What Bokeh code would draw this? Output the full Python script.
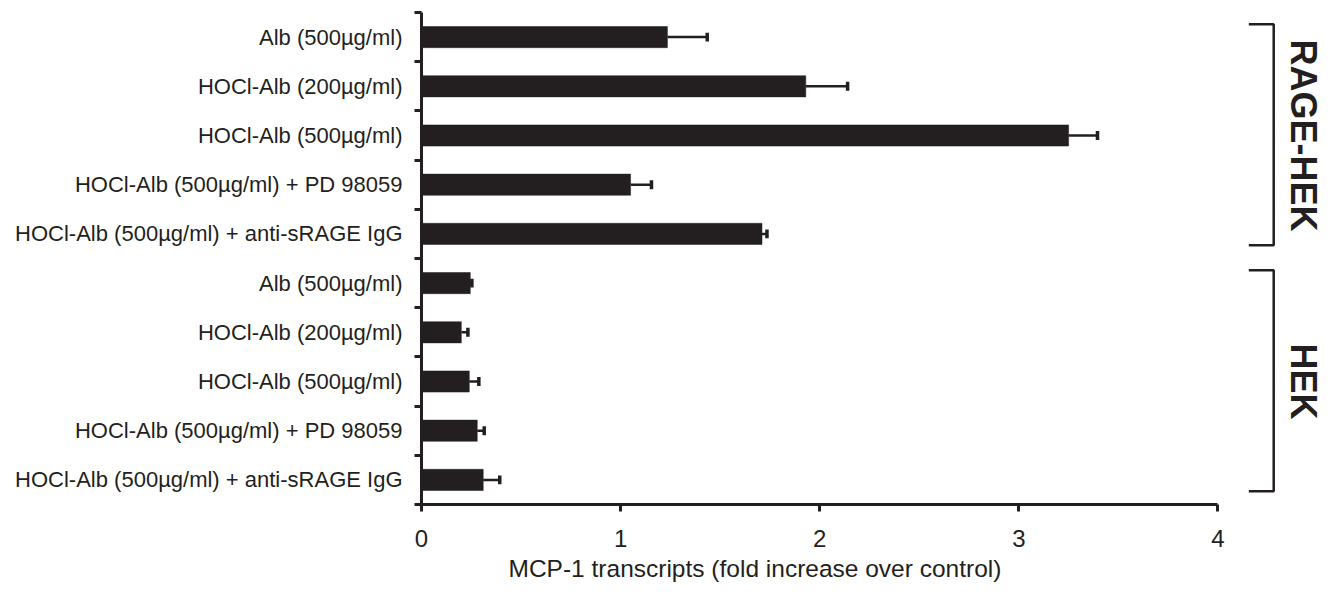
import math
from bokeh.plotting import figure
from bokeh.models import Range1d, FixedTicker, Title, ColumnDataSource
from bokeh.core.properties import value
from bokeh.embed import file_html
from bokeh.resources import INLINE

# ---- data (top to bottom) ----
conditions = [
    "Alb (500µg/ml)",
    "HOCl-Alb (200µg/ml)",
    "HOCl-Alb (500µg/ml)",
    "HOCl-Alb (500µg/ml) + PD 98059",
    "HOCl-Alb (500µg/ml) + anti-sRAGE IgG",
    "Alb (500µg/ml)",
    "HOCl-Alb (200µg/ml)",
    "HOCl-Alb (500µg/ml)",
    "HOCl-Alb (500µg/ml) + PD 98059",
    "HOCl-Alb (500µg/ml) + anti-sRAGE IgG",
]
fold_increase = [1.235, 1.93, 3.25, 1.05, 1.71, 0.245, 0.20, 0.24, 0.28, 0.31]
error_upper = [0.20, 0.21, 0.145, 0.105, 0.025, 0.008, 0.033, 0.048, 0.035, 0.083]
groups = ["RAGE-HEK", "HEK"]
group_members = [(0, 4), (5, 9)]
x_ticks = [0, 1, 2, 3, 4]
x_title = "MCP-1 transcripts (fold increase over control)"

INK = "#231f20"
FONT = "Liberation Sans"

n = len(conditions)
y_center = [n - i - 0.5 for i in range(n)]
cap_half = 0.09

src = ColumnDataSource(dict(
    y=y_center,
    v=fold_increase,
    hi=[v + e for v, e in zip(fold_increase, error_upper)],
    ylo=[y - cap_half for y in y_center],
    yhi=[y + cap_half for y in y_center],
))

p = figure(width=1326, height=588, x_range=Range1d(0, 4.52), y_range=Range1d(0, n),
           output_backend="svg", toolbar_location=None,
           min_border_left=421, min_border_right=5, min_border_top=12, min_border_bottom=84)
p.outline_line_color = None
p.xgrid.visible = False
p.ygrid.visible = False
p.background_fill_color = "white"

p.hbar(y="y", left=0, right="v", height=0.43, source=src,
       fill_color=INK, line_color=INK, line_width=0.5)
p.segment(x0="v", x1="hi", y0="y", y1="y", source=src, line_color=INK, line_width=2.5)
p.segment(x0="hi", x1="hi", y0="ylo", y1="yhi", source=src, line_color=INK, line_width=3.5)

# group brackets
arm_x, spine_x, text_x = 4.155, 4.28, 4.43
bxs, bys, tys = [], [], []
for (a, b) in group_members:
    top = n - a - 0.24
    bot = n - b - 1 + 0.27
    bxs.append([arm_x, spine_x, spine_x, arm_x])
    bys.append([top, top, bot, bot])
    tys.append(n - (a + b + 1) / 2)
p.multi_line(xs=bxs, ys=bys, line_color=INK, line_width=2.5)
p.text(x=[text_x] * len(groups), y=tys, text=groups, angle=-math.pi / 2,
       text_align="center", text_baseline="middle", text_color=INK,
       text_font=value(FONT), text_font_style="bold", text_font_size="36px")

# y axis: labels at category centres, ticks (minor) at category boundaries
ya = p.yaxis[0]
ya.ticker = FixedTicker(ticks=y_center, minor_ticks=list(range(n + 1)))
ya.major_label_overrides = {y: c for y, c in zip(y_center, conditions)}
ya.major_tick_line_color = None
ya.major_tick_out = 0
ya.major_tick_in = 0
ya.minor_tick_line_color = INK
ya.minor_tick_line_width = 3
ya.minor_tick_out = 7
ya.minor_tick_in = 0
ya.axis_line_width = 3
ya.axis_line_color = INK
ya.major_label_text_font = FONT
ya.major_label_text_font_size = "22px"
ya.major_label_text_color = INK
ya.major_label_standoff = 12

xa = p.xaxis[0]
xa.ticker = FixedTicker(ticks=x_ticks)
xa.bounds = (0, 4)
xa.axis_line_width = 3
xa.axis_line_color = INK
xa.major_tick_line_width = 3
xa.major_tick_line_color = INK
xa.major_tick_out = 7
xa.major_tick_in = 0
xa.minor_tick_line_color = None
xa.major_label_text_font = FONT
xa.major_label_text_font_size = "24px"
xa.major_label_text_color = INK
xa.major_label_standoff = 18

t = Title(text=x_title, align="left", offset=87, text_font=FONT, text_font_size="24.5px",
          text_font_style="normal", text_color=INK, standoff=7)
p.add_layout(t, "below")

open("out.html", "w").write(file_html(p, INLINE))
